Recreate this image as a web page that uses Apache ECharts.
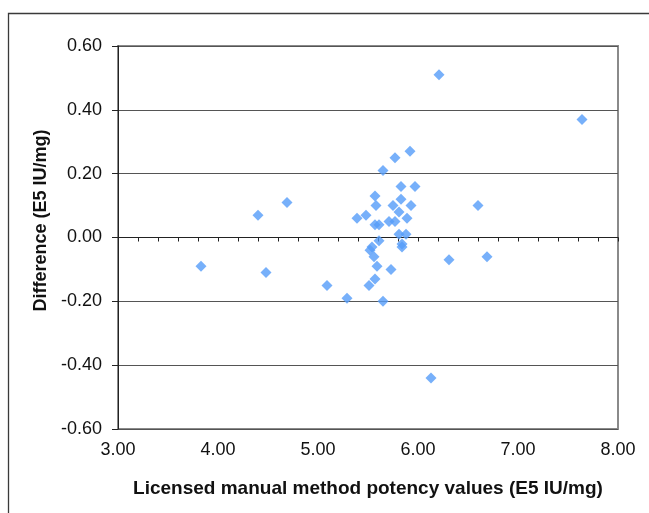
<!DOCTYPE html>
<html>
<head>
<meta charset="utf-8">
<script src="https://cdn.jsdelivr.net/npm/echarts@6/dist/echarts.min.js"></script>
<style>
  html, body { margin: 0; padding: 0; background: #fff; }
  #chart { width: 649px; height: 513px; }
</style>
</head>
<body>
<div id="chart"></div>
<script>
// Licensed manual method potency (E5 IU/mg) against the difference between methods
const potency = [
  6.21, 7.64, 5.92, 5.77, 5.65, 5.83, 5.97, 4.69, 5.57, 5.83,
  5.58, 5.75, 5.93, 6.60, 5.81, 4.40, 5.48, 5.39, 5.89, 5.71,
  5.77, 5.57, 5.61, 5.81, 5.88, 5.61, 5.84, 5.84, 5.54, 5.52,
  5.56, 6.31, 6.69, 3.83, 5.59, 5.73, 4.48, 5.57, 5.09, 5.51,
  5.29, 5.65, 6.13
];
const difference = [
  0.51, 0.37, 0.27, 0.25, 0.21, 0.16, 0.16, 0.11, 0.13, 0.12,
  0.10, 0.10, 0.10, 0.10, 0.08, 0.07, 0.07, 0.06, 0.06, 0.05,
  0.05, 0.04, 0.04, 0.01, 0.01, -0.01, -0.02, -0.03, -0.03, -0.04,
  -0.06, -0.07, -0.06, -0.09, -0.09, -0.10, -0.11, -0.13, -0.15, -0.15,
  -0.19, -0.20, -0.44
];
const xTicks = [3, 4, 5, 6, 7, 8];
const yTicks = [-0.6, -0.4, -0.2, 0, 0.2, 0.4, 0.6];

const points = potency.map((x, i) => [x, difference[i]]);
const font = 'Liberation Sans, Arial, Helvetica, sans-serif';

const chart = echarts.init(document.getElementById('chart'), null, { renderer: 'canvas' });
chart.setOption({
  animation: false,
  backgroundColor: '#fff',
  graphic: [{
    type: 'rect',
    shape: { x: 8.5, y: 13.5, width: 700, height: 600 },
    style: { fill: 'none', stroke: '#3a3a3a', lineWidth: 1.3 },
    z: -1
  }],
  grid: {
    left: 118, right: 31, top: 46, bottom: 84,
    show: true, borderColor: '#8a8a8a', borderWidth: 2, backgroundColor: '#fff'
  },
  xAxis: [{
    type: 'value',
    position: 'bottom',
    min: xTicks[0], max: xTicks[xTicks.length - 1], interval: 1,
    axisLine: { show: false },
    axisTick: { show: false },
    splitLine: { show: false },
    axisLabel: {
      color: '#111', fontSize: 18, fontFamily: font, margin: 12,
      formatter: v => v.toFixed(2)
    },
    name: 'Licensed manual method potency values (E5 IU/mg)',
    nameLocation: 'middle',
    nameGap: 50,
    nameTextStyle: { color: '#111', fontSize: 19, fontWeight: 'bold', fontFamily: font }
  }, {
    type: 'value',
    position: 'top',
    min: xTicks[0], max: xTicks[xTicks.length - 1], interval: 0.2,
    axisLine: { show: true, onZero: true, onZeroAxisIndex: 0, lineStyle: { color: '#222', width: 1 } },
    axisTick: { show: true, inside: true, length: 4, lineStyle: { color: '#222' } },
    axisLabel: { show: false },
    splitLine: { show: false }
  }],
  yAxis: {
    type: 'value',
    min: yTicks[0], max: yTicks[yTicks.length - 1], interval: 0.2,
    axisLine: { show: true, onZero: false, lineStyle: { color: '#222', width: 1 } },
    axisTick: { show: true, length: 6, lineStyle: { color: '#222' } },
    splitLine: { show: true, lineStyle: { color: '#555', width: 1 } },
    axisLabel: {
      color: '#111', fontSize: 18, fontFamily: font, margin: 16,
      formatter: v => v.toFixed(2)
    },
    name: 'Difference (E5 IU/mg)',
    nameLocation: 'middle',
    nameGap: 66,
    nameTextStyle: {
      color: '#111', fontSize: 18, fontWeight: 'bold', fontFamily: font,
      padding: [0, 0, 0, 34]
    }
  },
  series: [{
    type: 'scatter',
    xAxisIndex: 0,
    symbol: 'diamond',
    symbolSize: 11,
    itemStyle: { color: '#559cf9' },
    data: points,
    z: 5
  }]
});
</script>
</body>
</html>
